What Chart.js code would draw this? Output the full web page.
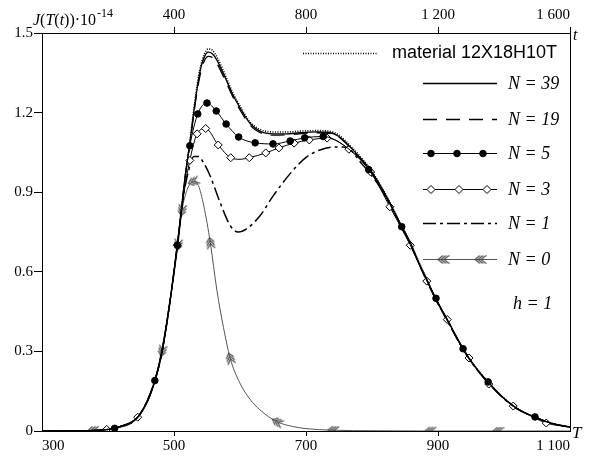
<!DOCTYPE html>
<html lang="en">
<head>
<meta charset="UTF-8">
<title>J(T(t))</title>
<script src="https://cdn.jsdelivr.net/npm/chart.js"></script>
<style>
  body { margin: 0; background: #fff; }
  .wrap { width: 598px; height: 460px; position: relative; }
</style>
</head>
<body>
<div class="wrap"><canvas id="chart"></canvas></div>
<script>
// values: T on the bottom axis, J in units of 1e-14
const envT = [300, 350, 380, 400, 420, 445, 460, 471, 482, 494, 505, 512, 517, 524, 532, 539, 546, 552, 558, 565,
  577, 589, 600, 615, 630, 650, 670, 690, 717, 735, 750, 767, 782, 797, 812, 827, 842, 858, 870, 883,
  898, 914, 930, 947, 962, 976, 995, 1014, 1030, 1047, 1064, 1080, 1100];
const matJ = [0, 0, 0.002, 0.006, 0.018, 0.052, 0.115, 0.19, 0.30, 0.49, 0.70, 0.85, 0.96, 1.09, 1.25, 1.36, 1.42, 1.44, 1.435, 1.41,
  1.345, 1.275, 1.225, 1.165, 1.137, 1.127, 1.127, 1.13, 1.132, 1.13, 1.115, 1.075, 1.035, 0.99, 0.93, 0.862, 0.787, 0.71, 0.642, 0.572,
  0.492, 0.42, 0.345, 0.275, 0.225, 0.185, 0.135, 0.095, 0.07, 0.052, 0.035, 0.024, 0.015];
const n39J = [0, 0, 0.002, 0.006, 0.018, 0.052, 0.115, 0.19, 0.30, 0.49, 0.70, 0.85, 0.96, 1.085, 1.24, 1.35, 1.41, 1.428, 1.422, 1.398,
  1.335, 1.268, 1.218, 1.16, 1.13, 1.12, 1.12, 1.124, 1.127, 1.125, 1.11, 1.07, 1.03, 0.985, 0.928, 0.86, 0.785, 0.71, 0.64, 0.57,
  0.49, 0.42, 0.345, 0.275, 0.225, 0.185, 0.135, 0.095, 0.07, 0.052, 0.035, 0.024, 0.015];
const n19J = [0, 0, 0.002, 0.006, 0.018, 0.052, 0.115, 0.19, 0.30, 0.49, 0.70, 0.85, 0.96, 1.08, 1.23, 1.335, 1.395, 1.412, 1.408, 1.385,
  1.325, 1.26, 1.21, 1.153, 1.125, 1.115, 1.116, 1.12, 1.124, 1.122, 1.107, 1.068, 1.028, 0.983, 0.926, 0.858, 0.783, 0.708, 0.638, 0.568,
  0.488, 0.418, 0.343, 0.273, 0.223, 0.183, 0.134, 0.094, 0.07, 0.052, 0.035, 0.024, 0.015];

const n5T = [300, 350, 380, 410, 445, 471, 494, 505, 517, 524, 536, 550, 564, 579, 598, 623, 650, 676, 698, 726,
  760, 795, 820, 845, 870, 897, 914, 938, 955, 976, 1010, 1047, 1075, 1100];
const n5J = [0, 0, 0.002, 0.01, 0.052, 0.19, 0.49, 0.70, 0.96, 1.075, 1.195, 1.236, 1.206, 1.157, 1.108, 1.086, 1.082, 1.093, 1.105, 1.11,
  1.072, 0.985, 0.885, 0.77, 0.637, 0.50, 0.42, 0.31, 0.245, 0.185, 0.10, 0.053, 0.027, 0.015];
const n5Marks = [410, 471, 505, 524, 536, 550, 564, 579, 598, 623, 650, 676, 698, 726, 795, 845, 897, 938, 976, 1047];

const n3T = [300, 350, 380, 398, 420, 445, 471, 482, 494, 505, 514, 524, 535, 548, 567, 586, 600, 614, 639, 659,
  682, 705, 732, 765, 798, 827, 858, 883, 914, 947, 977, 1014, 1040, 1064, 1100];
const n3J = [0, 0, 0.002, 0.006, 0.018, 0.052, 0.19, 0.30, 0.49, 0.70, 0.88, 1.02, 1.12, 1.14, 1.078, 1.03, 1.024, 1.03, 1.048, 1.067,
  1.085, 1.097, 1.104, 1.062, 0.976, 0.845, 0.70, 0.565, 0.42, 0.275, 0.177, 0.094, 0.058, 0.03, 0.015];
const n3Marks = [398, 445, 505, 524, 535, 548, 567, 586, 614, 639, 659, 682, 705, 732, 765, 798, 827, 858, 883, 914, 947, 977, 1014, 1064];

const n1T = [300, 350, 380, 400, 420, 445, 471, 482, 494, 505, 514, 522, 530, 537, 545, 555, 570, 585, 597, 610,
  630, 650, 676, 701, 720, 741, 756, 767, 782, 797, 812, 827, 842, 858, 883, 898, 914, 947, 976, 1014, 1047, 1075, 1100];
const n1J = [0, 0, 0.002, 0.006, 0.018, 0.052, 0.19, 0.30, 0.49, 0.70, 0.88, 0.98, 1.035, 1.035, 1.01, 0.96, 0.86, 0.775, 0.75, 0.762,
  0.81, 0.885, 0.97, 1.033, 1.058, 1.07, 1.07, 1.06, 1.015, 0.97, 0.92, 0.855, 0.78, 0.705, 0.565, 0.49, 0.415, 0.272, 0.182, 0.093, 0.052, 0.027, 0.015];

const n0T = [300, 340, 377, 400, 420, 445, 465, 482, 494, 506, 512, 520, 529, 537, 545, 555, 565, 575, 585, 600,
  615, 630, 656, 680, 700, 741, 800, 888, 991, 1100];
const n0J = [0, 0, 0.002, 0.006, 0.018, 0.052, 0.14, 0.30, 0.49, 0.70, 0.83, 0.91, 0.94, 0.925, 0.85, 0.71, 0.53, 0.39, 0.275, 0.18,
  0.12, 0.08, 0.035, 0.017, 0.009, 0.003, 0.001, 0, 0, 0];
const n0Marks = [377, 482, 506, 512, 529, 555, 585, 656, 741, 888, 991];

const bottomTicks = [300, 500, 700, 900, 1100];
const topTicks = [0, 400, 800, 1200, 1600];
const leftTicks = [0, 0.3, 0.6, 0.9, 1.2, 1.5];

const labels = ['material 12X18H10T', 'N = 39', 'N = 19', 'N = 5', 'N = 3', 'N = 1', 'N = 0'];

const SERIF = "'Liberation Serif', 'Times New Roman', serif";
const SANS = "'Liberation Sans', Arial, sans-serif";

// triple chevron marker used for N = 0
const chevron = document.createElement('canvas');
chevron.width = 13; chevron.height = 9;
(function () {
  const c = chevron.getContext('2d');
  c.strokeStyle = '#444';
  c.lineWidth = 1.1;
  for (let i = 0; i < 3; i++) {
    const x0 = 1.5 + i * 3;
    c.beginPath();
    c.moveTo(x0 + 5, 0.5);
    c.lineTo(x0, 4.5);
    c.lineTo(x0 + 5, 8.5);
    c.stroke();
  }
})();

const pts = (T, J) => T.map((t, i) => ({ x: t, y: J[i] }));
const fmt = v => String(v).replace(/\B(?=(\d{3})+(?!\d))/g, ' ');

function markRadius(marks, r) {
  return ctx => (ctx.raw && marks.includes(ctx.raw.x)) ? r : 0;
}

// rotate the chevrons along the curve
function tangent(ctx) {
  const chart = ctx.chart, data = ctx.dataset.data, i = ctx.dataIndex;
  const xs = chart.scales.x, ys = chart.scales.y;
  const a = data[Math.max(0, i - 1)], b = data[Math.min(data.length - 1, i + 1)];
  const dx = xs.getPixelForValue(b.x) - xs.getPixelForValue(a.x);
  const dy = ys.getPixelForValue(b.y) - ys.getPixelForValue(a.y);
  return Math.atan2(dy, dx) * 180 / Math.PI;
}

const overlay = {
  id: 'overlay',
  afterDraw(chart) {
    const c = chart.ctx;
    c.save();
    c.fillStyle = '#000';
    c.textBaseline = 'alphabetic';
    c.textAlign = 'left';

    // y axis title J(T(t))·10^-14
    let x = 33;
    const parts = [['J', true], ['(', false], ['T', true], ['(', false], ['t', true], [')', false], [')', false], ['\u00b710', false]];
    parts.forEach(([s, it]) => {
      c.font = (it ? 'italic ' : '') + '16px ' + SERIF;
      c.fillText(s, x, 25);
      x += c.measureText(s).width;
    });
    c.font = '12px ' + SERIF;
    c.fillText('-14', x + 1, 17);

    // axis letters
    c.font = 'italic 16px ' + SERIF;
    c.fillText('t', 573, 40);
    c.font = 'italic 17px ' + SERIF;
    c.fillText('T', 572, 438);

    // legend
    const rows = [53, 83, 119, 153, 189, 223, 259];
    chart.data.datasets.forEach((ds, k) => {
      const y = rows[k];
      const x0 = k === 0 ? 303 : 423, x1 = k === 0 ? 378 : 497;
      c.save();
      c.strokeStyle = ds.borderColor;
      c.lineWidth = ds.borderWidth;
      c.setLineDash(ds.borderDash || []);
      c.beginPath();
      c.moveTo(x0, y + 0.5);
      c.lineTo(x1, y + 0.5);
      c.stroke();
      c.restore();
      let marks = [];
      if (k === 3) marks = [431, 457, 483];
      if (k === 4) marks = [431, 459, 487];
      if (k === 6) marks = [443, 480];
      marks.forEach(mx => {
        c.save();
        c.fillStyle = ds.pointBackgroundColor;
        c.strokeStyle = ds.pointBorderColor;
        c.lineWidth = 1;
        Chart.helpers.drawPoint(c, { pointStyle: ds.pointStyle, radius: k === 4 ? 4 : 3.3, rotation: 0, borderWidth: 1 }, mx, y + 0.5);
        c.restore();
      });
      c.textBaseline = 'middle';
      if (k === 0) {
        c.font = '18px ' + SANS;
        c.fillText(labels[k], 392, y);
      } else {
        c.font = 'italic 18px ' + SERIF;
        c.fillText(labels[k], 508, y + 1);
      }
    });
    c.font = 'italic 18px ' + SERIF;
    c.fillText('h = 1', 513, 304);
    c.restore();
  }
};

const tickFont = { family: SERIF, size: 15 };

new Chart(document.getElementById('chart'), {
  type: 'line',
  data: {
    datasets: [
      { label: labels[0], data: pts(envT, matJ), borderColor: '#000', borderWidth: 1.6, borderDash: [1, 1.5], pointRadius: 0 },
      { label: labels[1], data: pts(envT, n39J), borderColor: '#000', borderWidth: 1.3, pointRadius: 0 },
      { label: labels[2], data: pts(envT, n19J), borderColor: '#000', borderWidth: 1.3, borderDash: [14, 9], pointRadius: 0 },
      { label: labels[3], data: pts(n5T, n5J), borderColor: '#000', borderWidth: 1, pointStyle: 'circle',
        pointRadius: markRadius(n5Marks, 3.3), pointBackgroundColor: '#000', pointBorderColor: '#000', pointBorderWidth: 1 },
      { label: labels[4], data: pts(n3T, n3J), borderColor: '#000', borderWidth: 1, pointStyle: 'rectRot',
        pointRadius: markRadius(n3Marks, 4), pointBackgroundColor: '#fff', pointBorderColor: '#000', pointBorderWidth: 1 },
      { label: labels[5], data: pts(n1T, n1J), borderColor: '#000', borderWidth: 1.5, borderDash: [13, 4, 3, 4], pointRadius: 0 },
      { label: labels[6], data: pts(n0T, n0J), borderColor: '#555', borderWidth: 1, pointStyle: chevron,
        pointRadius: markRadius(n0Marks, 4), rotation: tangent, pointBackgroundColor: '#444', pointBorderColor: '#444' }
    ]
  },
  options: {
    responsive: true,
    maintainAspectRatio: false,
    animation: false,
    events: [],
    layout: { padding: 0 },
    elements: { line: { cubicInterpolationMode: 'monotone' } },
    plugins: { legend: { display: false }, tooltip: { enabled: false } },
    scales: {
      x: {
        type: 'linear', position: 'bottom', min: 300, max: 1100,
        afterBuildTicks: s => { s.ticks = bottomTicks.map(v => ({ value: v })); },
        afterFit: s => { s.height = 29; },
        ticks: { callback: fmt, font: tickFont, color: '#000', align: 'inner', padding: 1, maxRotation: 0 },
        grid: { drawOnChartArea: false, tickLength: 5,
          tickColor: ctx => (ctx.tick && (ctx.tick.value === 300 || ctx.tick.value === 1100)) ? 'rgba(0,0,0,0)' : '#000' },
        border: { color: '#000', width: 1 }
      },
      x2: {
        type: 'linear', position: 'top', min: 0, max: 1600,
        afterBuildTicks: s => { s.ticks = topTicks.map(v => ({ value: v })); },
        afterFit: s => { s.height = 33; },
        ticks: { callback: v => v === 0 ? '' : fmt(v), font: tickFont, color: '#000', align: 'inner', padding: 3, maxRotation: 0 },
        grid: { drawOnChartArea: false, tickLength: 6,
          tickColor: ctx => (ctx.tick && ctx.tick.value === 0) ? 'rgba(0,0,0,0)' : '#000' },
        border: { color: '#000', width: 1 }
      },
      y: {
        type: 'linear', position: 'left', min: 0, max: 1.5,
        afterBuildTicks: s => { s.ticks = leftTicks.map(v => ({ value: v })); },
        afterFit: s => { s.width = 42; },
        ticks: { callback: v => v === 0 ? '0' : v.toFixed(1), font: tickFont, color: '#000', padding: 1 },
        grid: { drawOnChartArea: false, tickLength: 8, tickColor: '#000' },
        border: { color: '#000', width: 1 }
      },
      y2: {
        type: 'linear', position: 'right', min: 0, max: 1.5,
        afterFit: s => { s.width = 28; },
        ticks: { display: false },
        grid: { drawOnChartArea: false, drawTicks: false },
        border: { color: '#000', width: 1 }
      }
    }
  },
  plugins: [overlay]
});
</script>
</body>
</html>
